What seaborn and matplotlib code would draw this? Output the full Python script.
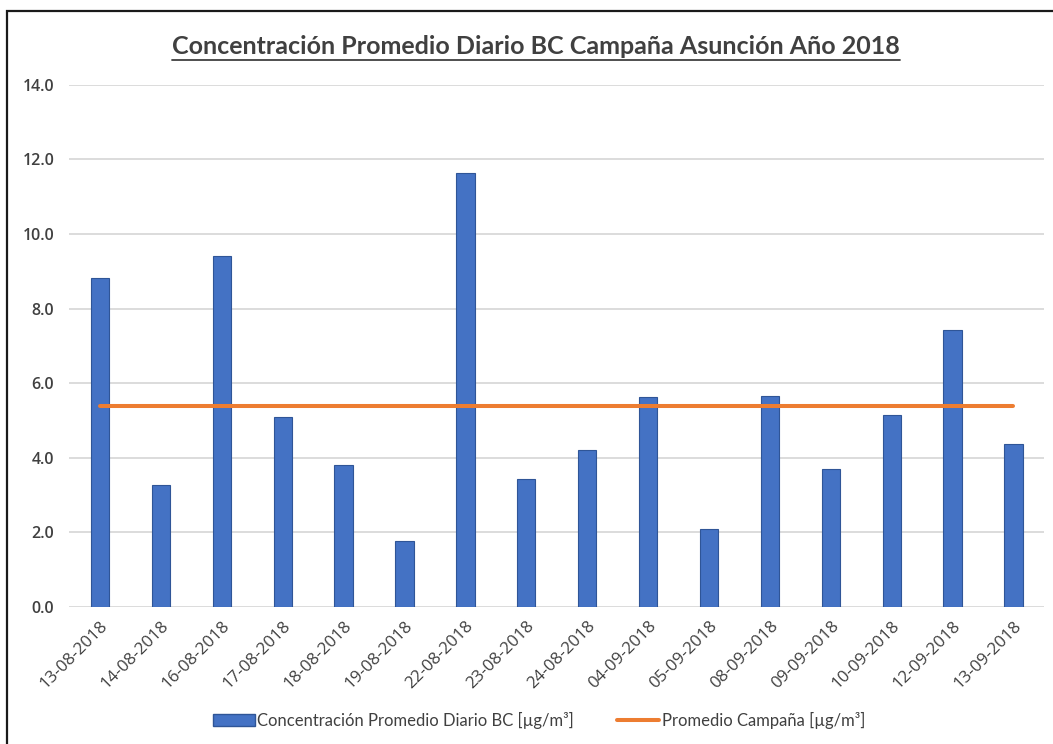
import numpy as np
import matplotlib
matplotlib.use("Agg")
import matplotlib.pyplot as plt
import seaborn as sns
from matplotlib.patches import Patch, Rectangle
from matplotlib.lines import Line2D

# daily values
fechas = ["13-08-2018", "14-08-2018", "16-08-2018", "17-08-2018",
          "18-08-2018", "19-08-2018", "22-08-2018", "23-08-2018",
          "24-08-2018", "04-09-2018", "05-09-2018", "08-09-2018",
          "09-09-2018", "10-09-2018", "12-09-2018", "13-09-2018"]
concentracion = [8.81, 3.27, 9.41, 5.09, 3.80, 1.77, 11.64, 3.44,
                 4.22, 5.62, 2.10, 5.66, 3.71, 5.14, 7.44, 4.38]
promedio_campana = 5.39
yticks = [0.0, 2.0, 4.0, 6.0, 8.0, 10.0, 12.0, 14.0]

titulo = "Concentración Promedio Diario BC Campaña Asunción Año 2018"
lbl_barras = "Concentración Promedio Diario BC [µg/m³]"
lbl_linea = "Promedio Campaña [µg/m³]"

AZUL = "#4472c4"
NARANJA = "#ed7d31"
GRIS_TXT = "#404040"

sns.set_theme(style="white")
plt.rcParams["font.family"] = ["Open Sans", "DejaVu Sans"]

fig = plt.figure(figsize=(10.53, 7.44), dpi=100)
ax = fig.add_axes([0.066, 0.184, 0.9254, 0.702])

sns.barplot(x=fechas, y=concentracion, ax=ax, color=AZUL, width=0.3,
            saturation=1, edgecolor="#2f5597", linewidth=0.8, zorder=3)
x = np.arange(len(fechas))
ax.plot(x, [promedio_campana] * len(fechas), color=NARANJA, lw=2.9,
        solid_capstyle="round", zorder=4)

ax.set_ylim(0, 14)
ax.set_xlim(-0.5, len(fechas) - 0.5)
ax.set_yticks(yticks)
ax.set_yticklabels(["%.1f" % v for v in yticks], fontsize=11.5,
                   color=GRIS_TXT, fontweight="semibold")
ax.set_xticks(x)
ax.set_xticklabels(fechas, rotation=45, ha="right", rotation_mode="anchor",
                   fontsize=12.2, color=GRIS_TXT)
ax.tick_params(axis="y", length=0, pad=11)
ax.tick_params(axis="x", length=0, pad=8)
ax.yaxis.grid(True, color="#d9d9d9", lw=1.3, zorder=0)
ax.set_axisbelow(True)
for s in ax.spines.values():
    s.set_visible(False)
ax.set_xlabel("")
ax.set_ylabel("")

# title with underline
t = fig.text(0.509, 0.937, titulo, ha="center", va="center", fontsize=18,
             fontweight="bold", color=GRIS_TXT, family=["Lato", "DejaVu Sans"])
fig.canvas.draw()
bb = t.get_window_extent(renderer=fig.canvas.get_renderer())
uy = (bb.y0 - 2) / fig.bbox.height
fig.add_artist(Line2D([bb.x0 / fig.bbox.width, bb.x1 / fig.bbox.width],
                      [uy, uy], color=GRIS_TXT, lw=1.3))

# legend
handles = [Patch(facecolor=AZUL, edgecolor="#2f5597", label=lbl_barras),
           Line2D([0], [0], color=NARANJA, lw=2.9, label=lbl_linea)]
fig.legend(handles=handles, loc="center", bbox_to_anchor=(0.512, 0.032),
           ncol=2, frameon=False, handlelength=2.5, handletextpad=0.15,
           columnspacing=2.6, prop={"family": ["Lato", "DejaVu Sans"], "size": 12},
           labelcolor=GRIS_TXT)

# outer frame of the chart area
fig.add_artist(Rectangle((7 / 1053, -0.05), 1.1, 1.05 - 11 / 744,
                         transform=fig.transFigure, fill=False,
                         edgecolor="#1a1a1a", lw=1.6))

fig.savefig("out.png", dpi=100)
